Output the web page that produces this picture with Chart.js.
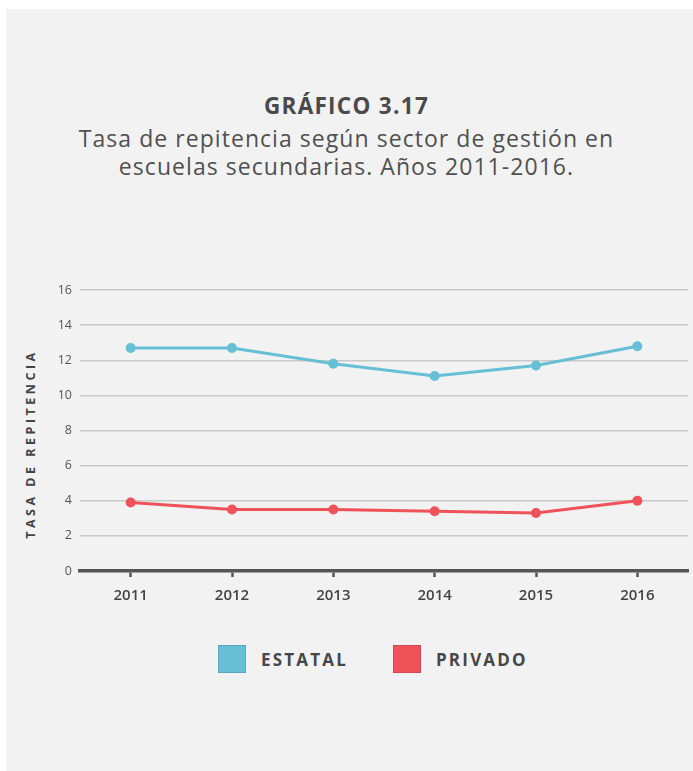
<!DOCTYPE html>
<html>
<head>
<meta charset="utf-8">
<script src="https://cdn.jsdelivr.net/npm/chart.js@4/dist/chart.umd.min.js"></script>
<style>
  html, body { margin:0; padding:0; background:#ffffff; width:693px; height:771px; overflow:hidden; }
  #panel { position:absolute; left:6px; top:9px; width:687px; height:762px; background:#f2f2f2; }
  .t { position:absolute; left:0; width:693px; text-align:center; font-family:"Open Sans", sans-serif; color:#505050; }
  #title { top:90px; font-size:22.5px; font-weight:700; letter-spacing:1.3px; color:#4a4a4a; }
  #sub { top:124px; font-size:23px; line-height:28px; letter-spacing:1.05px; }
  #ytitle { position:absolute; left:30px; top:444px; transform:translate(-50%,-50%) rotate(-90deg); font-family:"Open Sans", sans-serif; font-weight:700; font-size:12.5px; letter-spacing:3.5px; color:#444; white-space:nowrap; }
  #wrap { position:absolute; left:0; top:270px; width:693px; height:341px; }
  .leg { position:absolute; top:645px; height:28px; display:flex; align-items:center; font-family:"Open Sans", sans-serif; font-weight:700; font-size:17px; letter-spacing:2.2px; color:#474747; }
  .box { width:28px; height:28px; box-sizing:border-box; border:1px solid rgba(0,0,0,0.12); margin-right:15px; }
</style>
</head>
<body>
<div id="panel"></div>
<div class="t" id="title">GRÁFICO 3.17</div>
<div class="t" id="sub">Tasa de repitencia según sector de gestión en<br>escuelas secundarias. Años 2011-2016.</div>
<div id="ytitle">TASA DE REPITENCIA</div>
<div id="wrap"><canvas id="c"></canvas></div>
<div class="leg" style="left:218px;"><div class="box" style="background:#66bfd4"></div>ESTATAL</div>
<div class="leg" style="left:393px;"><div class="box" style="background:#f0525a"></div>PRIVADO</div>
<script>
const years = ["2011","2012","2013","2014","2015","2016"];
const estatal = [12.7, 12.7, 11.8, 11.1, 11.7, 12.8];
const privado = [3.9, 3.5, 3.5, 3.4, 3.3, 4.0];
const yTicks = [0, 2, 4, 6, 8, 10, 12, 14, 16];

new Chart(document.getElementById('c'), {
  type: 'line',
  data: {
    labels: years,
    datasets: [
      { label: 'ESTATAL', data: estatal, borderColor: '#66bfd4', backgroundColor: '#66bfd4',
        borderWidth: 3, pointRadius: 5, pointHoverRadius: 5, pointBorderWidth: 0, tension: 0 },
      { label: 'PRIVADO', data: privado, borderColor: '#f0525a', backgroundColor: '#f0525a',
        borderWidth: 3, pointRadius: 5, pointHoverRadius: 5, pointBorderWidth: 0, tension: 0 }
    ]
  },
  options: {
    responsive: true,
    maintainAspectRatio: false,
    animation: false,
    layout: { padding: { top: 20, right: 3, left: 0, bottom: 0 } },
    plugins: { legend: { display: false }, tooltip: { enabled: false } },
    scales: {
      x: {
        offset: true,
        grid: { offset: false, drawOnChartArea: false, drawTicks: true, tickLength: 6, tickWidth: 2.5, tickColor: '#555' },
        border: { display: true, color: '#555', width: 3.5 },
        ticks: { color: '#444', padding: 10, font: { family: 'Open Sans', size: 15, weight: '600' } },
        afterFit: s => { s.height = 40; }
      },
      y: {
        min: 0, max: 16,
        afterBuildTicks: s => { s.ticks = yTicks.map(v => ({ value: v })); },
        grid: { color: '#c9c9c9', lineWidth: 1.5, drawTicks: false },
        border: { display: false },
        ticks: { color: '#555', padding: 8, font: { family: 'Open Sans', size: 12.5 } },
        afterFit: s => { s.width = 80; }
      }
    }
  }
});
</script>
</body>
</html>
